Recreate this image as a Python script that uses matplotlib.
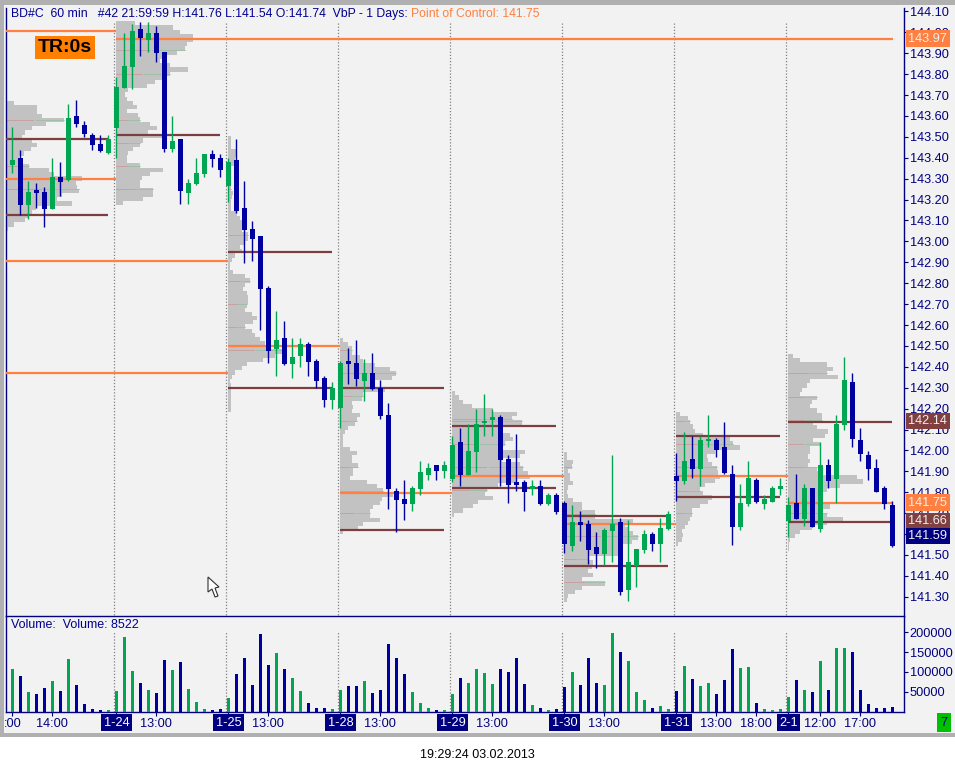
"""Futures chart: 60 min candles with daily volume profile and a volume panel"""

import matplotlib
matplotlib.use('Agg')
import matplotlib.pyplot as plt
from matplotlib.patches import Polygon, Rectangle
import numpy as np

plt.rcParams['font.family'] = ['Liberation Sans', 'DejaVu Sans']

# candles
opens = [143.365, 143.399, 143.176, 143.246, 143.236, 143.155, 143.308, 143.294, 143.600, 143.557, 143.509, 143.466, 143.423,
         143.543, 143.734, 143.834, 144.016, 143.964, 143.997, 143.906, 143.442, 143.490, 143.232, 143.275, 143.322, 143.418, 143.399,
         143.265, 143.389, 143.160, 143.059, 143.026, 142.777, 142.485, 142.538, 142.413, 142.452, 142.509, 142.428, 142.346, 142.241,
         142.203, 142.428, 142.418, 142.332, 142.370, 142.299, 142.169, 141.806, 141.768, 141.744, 141.815, 141.882, 141.930, 141.901,
         141.863, 142.040, 141.882, 141.992, 142.131, 142.146, 142.160, 141.959, 141.849, 141.849, 141.815, 141.830, 141.744, 141.787,
         141.749, 141.543, 141.658, 141.648, 141.538, 141.504, 141.614, 141.658, 141.332, 141.447, 141.524, 141.600, 141.552, 141.624,
         141.877, 141.853, 141.958, 141.911, 142.045, 142.049, 142.016, 141.887, 141.633, 141.743, 141.858, 141.743, 141.753, 141.815,
         141.662, 141.748, 141.671, 141.820, 141.624, 141.930, 141.863, 142.121, 142.327, 142.049, 141.978, 141.915, 141.820, 141.738]
highs = [143.549, 143.437, 143.287, 143.279, 143.260, 143.399, 143.380, 143.657, 143.677, 143.576, 143.519, 143.509, 143.509,
         143.785, 143.997, 144.040, 144.050, 144.050, 144.031, 143.906, 143.600, 143.490, 143.299, 143.399, 143.418, 143.437, 143.418,
         143.399, 143.490, 143.289, 143.098, 143.026, 142.787, 142.667, 142.619, 142.538, 142.538, 142.519, 142.437, 142.356, 142.327,
         142.428, 142.490, 142.528, 142.437, 142.466, 142.337, 142.227, 141.820, 141.858, 141.830, 141.949, 141.940, 141.930, 141.949,
         142.069, 142.107, 142.126, 142.198, 142.270, 142.198, 142.170, 141.978, 142.079, 141.859, 141.859, 141.859, 141.796, 141.796,
         141.758, 141.739, 141.710, 141.667, 141.610, 141.629, 141.978, 141.677, 141.667, 141.528, 141.619, 141.610, 141.677, 141.710,
         141.988, 142.088, 142.069, 142.069, 142.169, 142.059, 142.136, 141.930, 141.839, 141.949, 141.868, 141.786, 141.829, 141.868,
         141.777, 141.887, 141.839, 141.820, 142.040, 141.958, 142.169, 142.447, 142.370, 142.107, 141.997, 141.958, 141.829, 141.758]
lows = [143.329, 143.126, 143.109, 143.160, 143.070, 143.155, 143.219, 143.289, 143.547, 143.499, 143.437, 143.428, 143.418,
        143.399, 143.734, 143.729, 143.887, 143.906, 143.858, 143.428, 143.428, 143.179, 143.179, 143.270, 143.308, 143.356, 143.308,
        143.188, 143.136, 142.897, 142.906, 142.576, 142.418, 142.356, 142.409, 142.346, 142.399, 142.356, 142.299, 142.208, 142.198,
        142.107, 142.318, 142.308, 142.236, 142.289, 142.150, 141.720, 141.610, 141.667, 141.710, 141.787, 141.858, 141.858, 141.868,
        141.849, 141.830, 141.882, 141.897, 142.069, 142.069, 141.830, 141.749, 141.806, 141.710, 141.787, 141.739, 141.739, 141.696,
        141.509, 141.519, 141.567, 141.457, 141.437, 141.452, 141.466, 141.308, 141.280, 141.347, 141.509, 141.519, 141.466, 141.619,
        141.758, 141.839, 141.868, 141.829, 142.016, 141.968, 141.887, 141.547, 141.619, 141.734, 141.748, 141.719, 141.753, 141.786,
        141.585, 141.671, 141.638, 141.633, 141.609, 141.820, 141.748, 142.097, 142.016, 141.949, 141.858, 141.800, 141.719, 141.537]
closes = [143.389, 143.176, 143.236, 143.232, 143.155, 143.308, 143.284, 143.590, 143.562, 143.514, 143.461, 143.432, 143.490,
          143.739, 143.839, 144.007, 143.973, 143.997, 143.901, 143.442, 143.480, 143.241, 143.279, 143.327, 143.418, 143.394, 143.342,
          143.380, 143.145, 143.055, 143.011, 142.772, 142.476, 142.528, 142.413, 142.447, 142.509, 142.423, 142.332, 142.241, 142.299,
          142.418, 142.413, 142.342, 142.370, 142.294, 142.165, 141.815, 141.763, 141.744, 141.820, 141.897, 141.916, 141.901, 141.930,
          142.026, 141.882, 141.997, 142.126, 142.136, 142.160, 141.954, 141.835, 141.835, 141.801, 141.830, 141.744, 141.787, 141.705,
          141.552, 141.658, 141.643, 141.524, 141.504, 141.619, 141.648, 141.323, 141.466, 141.528, 141.600, 141.552, 141.629, 141.696,
          141.854, 141.949, 141.911, 142.049, 142.049, 142.002, 141.891, 141.633, 141.748, 141.868, 141.753, 141.767, 141.820, 141.829,
          141.738, 141.671, 141.820, 141.633, 141.930, 141.853, 142.126, 142.336, 142.054, 141.982, 141.911, 141.800, 141.743, 141.542]
volumes = [107600, 89800, 49100, 44000, 59300, 77100, 51700, 133000, 66900, 18600, 5900, 3400, 3400,
           51700, 188900, 102500, 72000, 54200, 46600, 130400, 105000, 125400, 56700, 23700, 5900, 3400, 5900,
           33900, 94900, 135500, 66900, 196500, 117700, 148200, 107600, 84700, 51700, 21200, 8500, 8500, 5900,
           54200, 64400, 64400, 77100, 46600, 54200, 171100, 135500, 94900, 49100, 21200, 8500, 3400, 3400,
           44000, 84700, 72000, 107600, 97400, 69500, 107600, 99900, 135500, 69500, 16100, 8500, 3400, 5900,
           61800, 99900, 66900, 135500, 72000, 66900, 199000, 150800, 127900, 49100, 28800, 8500, 13600, 5900,
           51700, 115200, 82200, 64400, 72000, 44000, 79600, 158400, 110100, 112700, 21200, 5900, 3400, 5900,
           36400, 79600, 54200, 49100, 127900, 54200, 160900, 160900, 150800, 54200, 18600, 8500, 8500, 11000]

# volume at price, one list per day, top level going down in 0.02 steps
profile_tops = [143.661, 144.043, 143.493, 142.528, 142.273, 141.983, 142.174, 142.451]
profile_0 = [8, 31, 31, 36, 58, 40, 26, 19, 16, 26, 31, 25, 18, 13, 15, 23, 43, 48, 76, 70, 71, 73, 56, 51, 66, 30, 26, 23, 19, 8, 2]
profile_1 = [19, 57, 64, 77, 77, 71, 69, 61, 47, 44, 54, 72, 54, 46, 39, 31, 12, 9, 11, 17, 21, 11, 22, 24, 34, 41, 32, 51, 27, 24, 17, 12, 11, 11, 24, 47, 34, 26, 24, 24, 37, 37, 27, 7]
profile_2 = [3, 3, 3, 8, 8, 7, 7, 3, 3, 3, 3, 3, 3, 5, 4, 3, 3, 3, 9, 12, 14, 15, 14, 20, 20, 17, 12, 14, 7, 4, 2, 2, 5, 17, 22, 17, 15, 19, 20, 20, 19, 17, 24, 29, 25, 17, 24, 27, 32, 37, 42, 54, 47, 35, 19, 14, 7, 4, 2, 3, 3, 3, 3, 3, 3, 3]
profile_3 = [3, 8, 12, 12, 20, 23, 35, 50, 56, 52, 35, 33, 45, 23, 22, 12, 13, 12, 20, 17, 15, 8, 5, 3, 3, 3, 10, 17, 12, 12, 18, 13, 13, 10, 27, 37, 43, 53, 42, 40, 33, 30, 30, 40, 23, 18, 3]
profile_4 = [3, 7, 11, 20, 41, 65, 60, 70, 50, 51, 58, 61, 53, 48, 73, 68, 50, 68, 71, 76, 78, 65, 46, 35, 33, 41, 26, 21, 11, 2]
profile_5 = [3, 3, 9, 8, 4, 6, 6, 9, 4, 3, 4, 9, 18, 18, 31, 31, 69, 61, 64, 69, 74, 68, 58, 58, 58, 24, 29, 28, 24, 29, 18, 41, 18, 11, 4, 3]
profile_6 = [4, 12, 14, 17, 19, 27, 54, 57, 64, 39, 31, 32, 36, 41, 42, 44, 39, 29, 24, 27, 36, 32, 24, 16, 16, 14, 12, 9, 6, 7, 6, 2]
profile_7 = [5, 12, 39, 45, 39, 50, 22, 19, 14, 12, 29, 24, 22, 29, 34, 34, 25, 29, 40, 37, 25, 32, 22, 22, 20, 22, 20, 29, 32, 69, 75, 52, 39, 35, 32, 35, 42, 32, 39, 55, 39, 24, 12, 7, 2, 1, 1]
profiles = [profile_0, profile_1, profile_2, profile_3, profile_4, profile_5, profile_6, profile_7]

# faint marks inside the profiles
profile_marks = [[143.581, 143.361, 143.249],
                 [143.916, 143.801, 143.581, 143.469, 143.361, 143.249],
                 [143.249, 143.029, 142.809, 142.700, 142.589, 142.480],
                 [142.480, 142.370, 142.260, 142.142, 141.919, 141.807, 141.699],
                 [142.149, 142.141, 142.029, 141.919, 141.809],
                 [141.919, 141.697, 141.590, 141.479, 141.369],
                 [142.140, 142.029, 141.919, 141.807, 141.699],
                 [142.368, 142.257, 142.147, 142.029, 141.919, 141.699]]

# (price, first day, last day + 1) of the point of control lines
poc_price = [144.007, 143.970, 143.299, 142.906, 142.370, 142.499, 141.798, 141.878, 141.648, 141.877, 141.750]
poc_start = [0, 1, 0, 0, 0, 2, 3, 4, 5, 6, 7]
poc_end = [1, 8, 1, 2, 2, 3, 4, 5, 6, 7, 8]

# value area lines per day
va_high = [143.490, 143.509, 142.949, 142.299, 142.117, 141.686, 142.069, 142.137]
va_low = [143.126, None, 142.299, 141.619, 141.820, 141.447, 141.777, 141.657]

price_ticks = [141.3 + 0.1 * k for k in range(29)]
volume_ticks = [50000, 100000, 150000, 200000]

time_ticks = [0, 5, 18, 32, 46, 60, 74, 88, 93, 101, 106]
time_labels = [':00', '14:00', '13:00', '13:00', '13:00', '13:00', '13:00', '13:00', '18:00', '12:00', '17:00']
day_ticks = [13, 27, 41, 55, 69, 83, 97]
day_labels = ['1-24', '1-25', '1-28', '1-29', '1-30', '1-31', '2-1']

price_boxes = [143.97, 142.14, 141.75, 141.66, 141.59]
box_labels = ['143.97', '142.14', '141.75', '141.66', '141.59']
box_colors = ['#FF8040', '#804040', '#FF8040', '#804040', '#000080']

GREEN = '#00A651'
BLUE = '#0000A0'
NAVY = '#000080'
ORANGE = '#FF8040'
BROWN = '#7B3F3F'
PANEL = '#F2F2F2'
W, H = 955, 772


def px_rect(left, top, right, bottom):
    return [left / W, 1 - bottom / H, (right - left) / W, (bottom - top) / H]


fig = plt.figure(figsize=(W / 100, H / 100), dpi=100, facecolor='white')
fig.add_artist(Rectangle((0, 35 / H), 1, 1 - 35 / H, transform=fig.transFigure, color='#B0B0B0', lw=0, zorder=-2))
fig.add_artist(Rectangle((4 / W, 39 / H), 1 - 4 / W, 1 - 39 / H - 5 / H, transform=fig.transFigure, color=PANEL, lw=0, zorder=-1))

ax = fig.add_axes(px_rect(5.5, 8, 903.5, 616), facecolor=PANEL, zorder=2)
vax = fig.add_axes(px_rect(5.5, 616, 903.5, 711.5), facecolor=PANEL, sharex=ax, zorder=1)

x = np.arange(len(closes))
opens = np.array(opens)
closes = np.array(closes)
highs = np.array(highs)
lows = np.array(lows)
colors = [GREEN if c >= o else BLUE for o, c in zip(opens, closes)]

day_lines = [12.64 + 14 * k for k in range(7)]
day_starts = [-0.86] + [12.95 + 14 * k for k in range(7)]
day_ends = [12.95 + 14 * k for k in range(7)] + [110.1]

for day, widths in enumerate(profiles):
    widths = np.array(widths) / 8
    levels = profile_tops[day] - 0.02 * np.arange(len(widths))
    ax.barh(levels, widths, height=0.0205, left=day_starts[day], color='#C2C2C2', lw=0, zorder=1, antialiased=False)
    for level in profile_marks[day]:
        # width of the row this mark sits on
        w = widths[np.argmin(np.abs(levels - level))]
        start = day_starts[day]
        ax.plot([start, start + w * 0.48], [level, level], color='#D08A8A', lw=0.7, alpha=0.6, zorder=2)
        ax.plot([start + w * 0.52, start + w], [level, level], color='#8AC09A', lw=0.7, alpha=0.6, zorder=2)

for line in day_lines:
    ax.plot([line, line], [141.2, 144.05], color='#808080', lw=0.9, ls=(0, (1, 1.5)), zorder=2)
    vax.plot([line, line], [0, 200000], color='#808080', lw=0.9, ls=(0, (1, 1.5)), zorder=1)

for price, first, last in zip(poc_price, poc_start, poc_end):
    ax.plot([day_starts[first], day_ends[last - 1]], [price, price], color=ORANGE, lw=1.6,
            solid_capstyle='butt', zorder=3)

for day in range(8):
    end = day_starts[day] + 13 if day > 0 else 12.0
    for level in (va_high[day], va_low[day]):
        if level is not None:
            ax.plot([day_starts[day], end], [level, level], color=BROWN, lw=1.6, solid_capstyle='butt', zorder=3)

ax.vlines(x, lows, highs, colors=colors, lw=1.0, zorder=4)
ax.bar(x, np.maximum(np.abs(closes - opens), 0.008), bottom=np.minimum(opens, closes), width=0.65,
       color=colors, lw=0, zorder=5, antialiased=False)

vax.bar(x, volumes, width=0.375, color=colors, lw=0, zorder=3, antialiased=False)

ax.set_xlim(-0.8625, 111.3875)
ax.set_ylim(141.2077, 144.1167)
vax.set_ylim(0, 241160)

ax.yaxis.tick_right()
ax.set_yticks(price_ticks)
ax.set_yticklabels(['%.2f' % p for p in price_ticks])
ax.tick_params(axis='y', colors=NAVY, labelcolor=NAVY, length=3, width=0.8, labelsize=9.2, pad=1.5)
ax.tick_params(axis='x', bottom=False, labelbottom=False)

vax.yaxis.tick_right()
vax.set_yticks(volume_ticks)
vax.set_yticklabels([str(v) for v in volume_ticks])
vax.tick_params(axis='y', colors=NAVY, labelcolor=NAVY, length=3, width=0.8, labelsize=9.2, pad=1.5)
vax.set_xticks(time_ticks + day_ticks)
vax.set_xticklabels(time_labels + [''] * len(day_ticks))
vax.tick_params(axis='x', colors=NAVY, labelcolor=NAVY, length=3, width=0.8, labelsize=9.2, pad=2)

for a in (ax, vax):
    a.spines['top'].set_visible(False)
    for side in ('left', 'right', 'bottom'):
        a.spines[side].set_color(NAVY)
        a.spines[side].set_linewidth(1.0)

for tick, label in zip(day_ticks, day_labels):
    vax.annotate(label, (tick, 0), xytext=(0, -11), textcoords='offset pixels', xycoords=('data', 'axes fraction'),
                 ha='center', va='center', color='white', fontsize=9.2, annotation_clip=False,
                 bbox=dict(boxstyle='square,pad=0.2', fc=NAVY, ec='none'))

for price, label, color in zip(price_boxes, box_labels, box_colors):
    ax.text(1 + 5 / 898, price, label, transform=ax.get_yaxis_transform(), va='center', ha='left', color='#F0F0F0',
            fontsize=9.2, clip_on=False, zorder=6, bbox=dict(boxstyle='square,pad=0.18', fc=color, ec='none'))

fig.text(11 / W, 1 - 14 / H, 'BD#C  60 min   #42 21:59:59 H:141.76 L:141.54 O:141.74  VbP - 1 Days:',
         color='#000090', fontsize=8.8, va='center')
fig.text(411 / W, 1 - 14 / H, 'Point of Control: 141.75', color=ORANGE, fontsize=8.8, va='center')
fig.text(11 / W, 1 - 624.5 / H, 'Volume:  Volume: 8522', color='#000090', fontsize=9, va='center')
fig.text(65 / W, 1 - 47.5 / H, 'TR:0s', color='black', fontsize=14, fontweight='bold', va='center', ha='center',
         bbox=dict(boxstyle='square,pad=0.13', fc='#FF8000', ec='none'))
fig.text(944 / W, 1 - 722.5 / H, '7', color=NAVY, fontsize=9.2, va='center', ha='center',
         bbox=dict(boxstyle='square,pad=0.3', fc='#00C000', ec='none'))
fig.text(477 / W, 1 - 755 / H, '19:29:24 03.02.2013', color='black', fontsize=9, va='center', ha='center')

# mouse pointer left on the screen
arrow = [(208, 577), (208, 592), (212, 589), (215, 597), (218, 596), (215, 588), (219, 587)]
fig.add_artist(Polygon([(p / W, 1 - q / H) for p, q in arrow], closed=True, transform=fig.transFigure,
                       fc='white', ec='#303030', lw=0.8, zorder=5))

fig.savefig('out.png', dpi=100)
